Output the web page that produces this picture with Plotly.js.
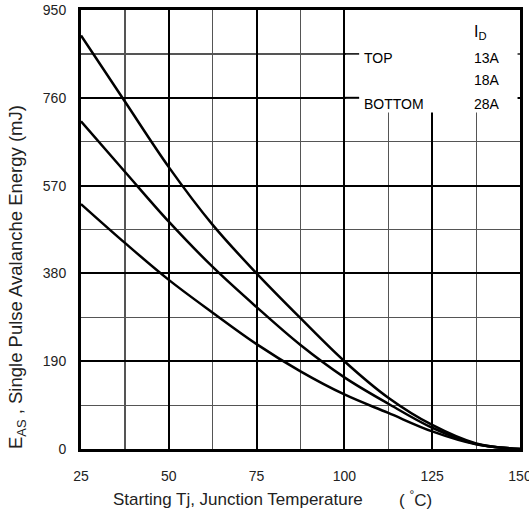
<!DOCTYPE html>
<html>
<head>
<meta charset="utf-8">
<script src="https://cdn.plot.ly/plotly-3.0.1.min.js"></script>
<style>html,body{margin:0;padding:0;background:#fff}#chart{width:529px;height:513px}</style>
</head>
<body>
<div id="chart"></div>
<script>
const tempC = [25, 37.5, 50, 62.5, 75, 87.5, 100, 112.5, 125, 137.5, 150];
const easTop13A = [895, 752, 610, 485, 380, 283, 190, 111, 52, 12, 0];
const easMid18A = [709, 600, 492, 394, 307, 225, 155, 98, 46, 11, 0];
const easBot28A = [530, 446, 366, 295, 227, 168, 118, 78, 38, 10, 0];
const xTicks = [25, 50, 75, 100, 125, 150];
const yTicks = [0, 190, 380, 570, 760, 950];
const legendRows = [["TOP", "13A"], ["", "18A"], ["BOTTOM", "28A"]];

const FONT = "Liberation Sans, Arial, sans-serif";
const lineStyle = {color: "#000", width: 2.5, shape: "spline", smoothing: 1};
const traces = [easTop13A, easMid18A, easBot28A].map(v => ({
  x: tempC, y: v, type: "scatter", mode: "lines", line: lineStyle, hoverinfo: "skip", showlegend: false
}));

const legendY = [847, 799, 747];
const annotations = [];
legendRows.forEach((r, i) => {
  if (r[0]) annotations.push({x: 105.1, y: legendY[i], xref: "x", yref: "y", text: r[0], showarrow: false, xanchor: "left", yanchor: "middle", font: {family: FONT, size: 14, color: "#000"}});
  annotations.push({x: 136.4, y: legendY[i], xref: "x", yref: "y", text: r[1], showarrow: false, xanchor: "left", yanchor: "middle", font: {family: FONT, size: 14, color: "#000"}});
});
annotations.push({x: 136.4, y: 902, xref: "x", yref: "y", text: "I<sub>D</sub>", showarrow: false, xanchor: "left", yanchor: "middle", font: {family: FONT, size: 16, color: "#000"}});
annotations.push({x: 238, y: 499, xref: "paper", yref: "paper", text: "Starting Tj, Junction Temperature", showarrow: false, xanchor: "center", yanchor: "middle", font: {family: FONT, size: 17, color: "#222"}});
annotations.push({x: 415, y: 499, xref: "paper", yref: "paper", text: "( <sup>°</sup>C)", showarrow: false, xanchor: "center", yanchor: "middle", font: {family: FONT, size: 17, color: "#222"}});
annotations.push({x: 17, y: 277, xref: "paper", yref: "paper", text: "E<sub>AS</sub> , Single Pulse Avalanche Energy (mJ)", textangle: -90, showarrow: false, xanchor: "center", yanchor: "middle", font: {family: FONT, size: 18.5, color: "#222"}});

// convert pixel-placed paper annotations
const L = 81, R = 9, T = 10, B = 64, W = 529, H = 513;
const pw = W - L - R, ph = H - T - B;
annotations.forEach(a => {
  if (a.xref === "paper") {
    a.x = (a.x - L) / pw;
    a.y = (H - B - a.y) / ph;
  }
});

const shapes = [
  {type: "rect", xref: "x", yref: "y", x0: 100.4, x1: 149.3, y0: 728, y1: 950, fillcolor: "#fff", line: {width: 0}, layer: "between"},
  {type: "line", xref: "x", yref: "y", x0: 100, x1: 104.2, y0: 855, y1: 855, line: {color: "#000", width: 1.5}, layer: "between"},
  {type: "line", xref: "x", yref: "y", x0: 100, x1: 104.2, y0: 760, y1: 760, line: {color: "#000", width: 2}, layer: "between"}
];

const layout = {
  width: W, height: H,
  margin: {l: L, r: R, t: T, b: B},
  paper_bgcolor: "#fff", plot_bgcolor: "#fff",
  showlegend: false,
  font: {family: FONT, size: 14, color: "#222"},
  xaxis: {
    range: [25, 150], tickvals: xTicks, ticktext: xTicks.map(String), ticks: "", ticklabelstandoff: 12,
    ticklabeloverflow: "allow",
    showgrid: true, gridcolor: "#000", gridwidth: 2,
    minor: {dtick: 12.5, tick0: 25, showgrid: true, gridcolor: "#555", gridwidth: 1.2, ticks: ""},
    showline: true, linecolor: "#000", linewidth: 3, mirror: true, zeroline: false,
    tickfont: {family: FONT, size: 14, color: "#222"}
  },
  yaxis: {
    range: [0, 950], tickvals: yTicks, ticktext: yTicks.map(String), ticks: "", ticklabelstandoff: 9,
    ticklabeloverflow: "allow",
    showgrid: true, gridcolor: "#000", gridwidth: 2,
    minor: {dtick: 95, tick0: 0, showgrid: true, gridcolor: "#555", gridwidth: 1.2, ticks: ""},
    showline: true, linecolor: "#000", linewidth: 3, mirror: true, zeroline: false,
    tickfont: {family: FONT, size: 14, color: "#222"}
  },
  shapes: shapes,
  annotations: annotations
};

Plotly.newPlot("chart", traces, layout, {staticPlot: true, displayModeBar: false});
</script>
</body>
</html>
